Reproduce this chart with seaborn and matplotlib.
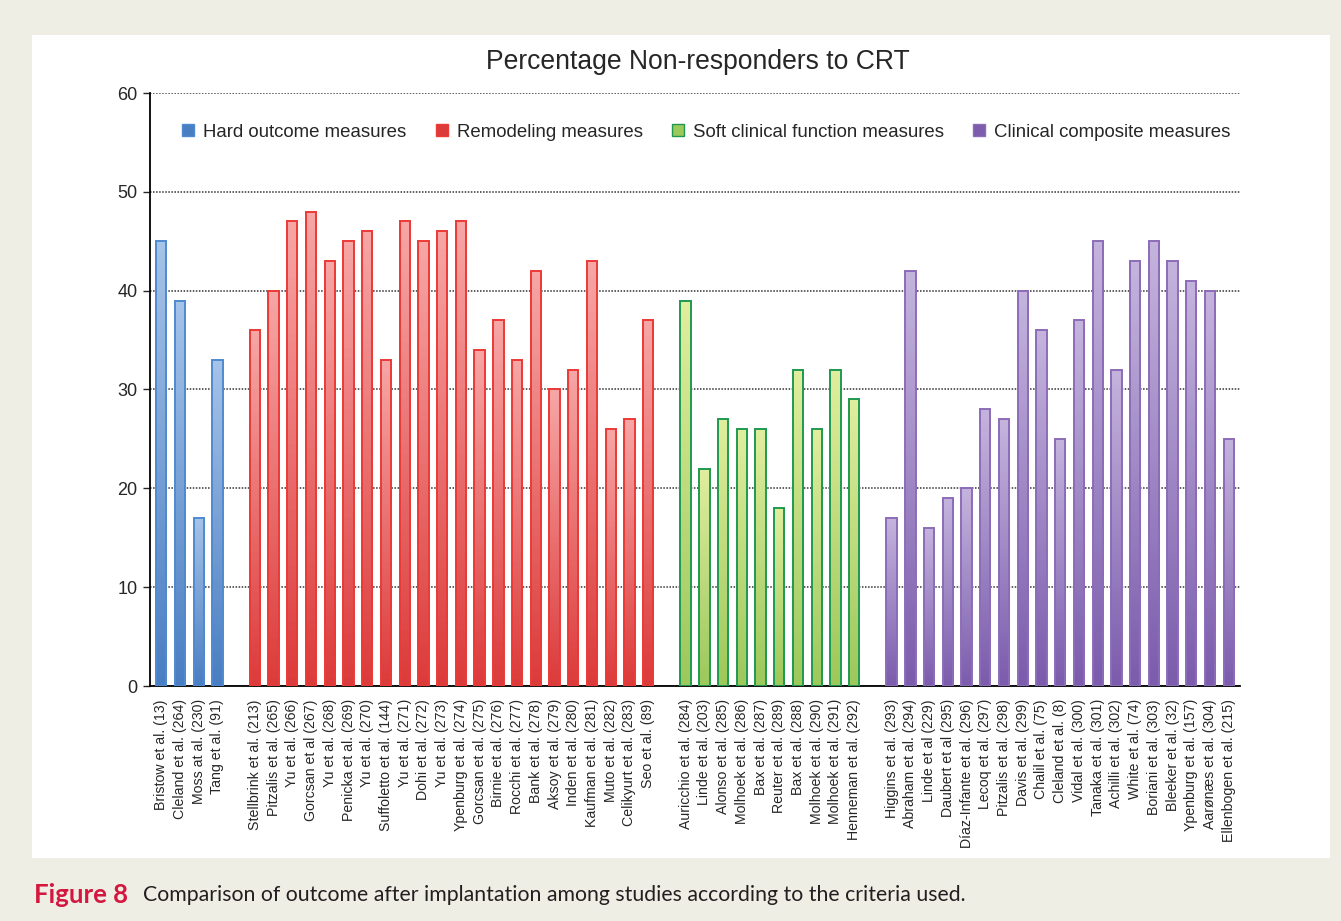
import numpy as np
import pandas as pd
import seaborn as sns
import matplotlib.pyplot as plt
from matplotlib.colors import LinearSegmentedColormap
from matplotlib.lines import Line2D
from matplotlib.patches import Rectangle

# Data (percentage non-responders)
hard_labels = ['Bristow et al. (13)', 'Cleland et al. (264)', 'Moss at al. (230)', 'Tang et al. (91)']
hard_values = [45, 39, 17, 33]

remodel_labels = ['Stellbrink et al. (213)', 'Pitzalis et al. (265)', 'Yu et al. (266)', 'Gorcsan et al (267)',
                  'Yu et al. (268)', 'Penicka et al. (269)', 'Yu et al. (270)', 'Suffoletto et al. (144)',
                  'Yu et al. (271)', 'Dohi et al. (272)', 'Yu et al. (273)', 'Ypenburg et al. (274)',
                  'Gorcsan et al. (275)', 'Birnie et al. (276)', 'Rocchi et al. (277)', 'Bank et al. (278)',
                  'Aksoy et al. (279)', 'Inden et al. (280)', 'Kaufman et al. (281)', 'Muto et al. (282)',
                  'Celikyurt et al. (283)', 'Seo et al. (89)']
remodel_values = [36, 40, 47, 48, 43, 45, 46, 33, 47, 45, 46, 47, 34, 37, 33, 42, 30, 32, 43, 26, 27, 37]

soft_labels = ['Auricchio et al. (284)', 'Linde et al. (203)', 'Alonso et al. (285)', 'Molhoek et al. (286)',
               'Bax et al. (287)', 'Reuter et al. (289)', 'Bax et al. (288)', 'Molhoek et al. (290)',
               'Molhoek et al. (291)', 'Henneman et al. (292)']
soft_values = [39, 22, 27, 26, 26, 18, 32, 26, 32, 29]

comp_labels = ['Higgins et al. (293)', 'Abraham et al. (294)', 'Linde et al (229)', 'Daubert et al (295)',
               'Díaz-Infante et al. (296)', 'Lecoq et al. (297)', 'Pitzalis et al. (298)', 'Davis et al. (299)',
               'Chalil et al. (75)', 'Cleland et al. (8)', 'Vidal et al. (300)', 'Tanaka et al. (301)',
               'Achilli et al. (302)', 'White et al. (74)', 'Boriani et al. (303)', 'Bleeker et al. (32)',
               'Ypenburg et al. (157)', 'Aarønæs et al. (304)', 'Ellenbogen et al. (215)']
comp_values = [17, 42, 16, 19, 20, 28, 27, 40, 36, 25, 37, 45, 32, 43, 45, 43, 41, 40, 25]

group_names = ['Hard outcome measures', 'Remodeling measures',
               'Soft clinical function measures', 'Clinical composite measures']

# styling per group: edge, light top, dark bottom
styles = {
    'Hard outcome measures': ('#4f8ad0', '#a6c3e8', '#4a7ec2'),
    'Remodeling measures': ('#ec3a36', '#f7a6a6', '#dc3b3b'),
    'Soft clinical function measures': ('#1f9950', '#e0ee9e', '#9cc85c'),
    'Clinical composite measures': ('#8c6cb8', '#c4b4dd', '#7b5cad'),
}

# build one table, leaving an empty slot between groups
groups = [(hard_labels, hard_values), (remodel_labels, remodel_values),
          (soft_labels, soft_values), (comp_labels, comp_values)]
rows = []
pos = 0
for name, (labs, vals) in zip(group_names, groups):
    for lab, v in zip(labs, vals):
        rows.append({'pos': pos, 'label': lab, 'value': v, 'group': name})
        pos += 1
    pos += 1
df = pd.DataFrame(rows)

sns.set_style('white')
plt.rcParams['font.family'] = ['Liberation Sans', 'DejaVu Sans']

fig = plt.figure(figsize=(13.41, 9.21), dpi=100, facecolor='#efeee5')
fig.patches.append(Rectangle((32 / 1341, 1 - 858 / 921), (1330 - 32) / 1341, (858 - 35) / 921,
                             transform=fig.transFigure, facecolor='white', edgecolor='none', zorder=-5))
ax = fig.add_axes([150 / 1341, 235 / 921, (1240 - 150) / 1341, (686 - 93) / 921])
ax.set_zorder(2)
ax.set_facecolor('white')

for name in group_names:
    sub = df[df['group'] == name]
    edge, top, bot = styles[name]
    sns.barplot(data=sub, x='pos', y='value', native_scale=True, width=0.55,
                color=bot, edgecolor=edge, linewidth=1.4, ax=ax, errorbar=None, zorder=3)
    cmap = LinearSegmentedColormap.from_list(name, [bot, top])
    for bar in ax.patches[-len(sub):]:
        x0, w, h = bar.get_x(), bar.get_width(), bar.get_height()
        bar.set_facecolor('none')
        grad = np.linspace(0, 1, 100).reshape(-1, 1)
        im = ax.imshow(grad, cmap=cmap, origin='lower', aspect='auto',
                       extent=[x0, x0 + w, 0, h], zorder=2)
        im.set_clip_path(bar)

ax.set_xlim(-0.6, df['pos'].max() + 0.6)
ax.set_ylim(0, 60)
ax.set_yticks(range(0, 61, 10))
ax.yaxis.grid(True, color='#333333', linestyle=(0, (1, 1)), linewidth=1.1, zorder=1)
ax.set_axisbelow(True)
ax.tick_params(axis='y', left=True, length=5, width=1, labelsize=13, pad=4)
ax.set_xticks(df['pos'])
ax.set_xticklabels(df['label'], rotation=90, fontsize=10.2)
ax.tick_params(axis='x', bottom=False, pad=6)
ax.set_xlabel('')
ax.set_ylabel('')
for s in ['top', 'right']:
    ax.spines[s].set_visible(False)
for s in ['left', 'bottom']:
    ax.spines[s].set_color('black')
    ax.spines[s].set_linewidth(1.3)

handles = [Line2D([], [], marker='s', linestyle='none', markersize=8,
                  markerfacecolor=styles[n][2], markeredgecolor=styles[n][0]) for n in group_names]
ax.legend(handles, group_names, ncol=4, loc='center', bbox_to_anchor=(0.5106, 0.934),
          frameon=False, fontsize=13.4, handlelength=0.6, handletextpad=0.5, columnspacing=1.6)

fig.text(698 / 1341, 1 - 62 / 921, 'Percentage Non-responders to CRT', ha='center', va='center', fontsize=19.1)

fig.text(34 / 1341, 1 - 895 / 921, 'Figure 8', ha='left', va='center', fontsize=18.5,
         fontweight='bold', color='#d4173e', family='Lato')
fig.text(143 / 1341, 1 - 895 / 921, 'Comparison of outcome after implantation among studies according to the criteria used.',
         ha='left', va='center', fontsize=15.3, color='#231f20', family='Lato')

fig.savefig('out.png', dpi=100, facecolor=fig.get_facecolor())
